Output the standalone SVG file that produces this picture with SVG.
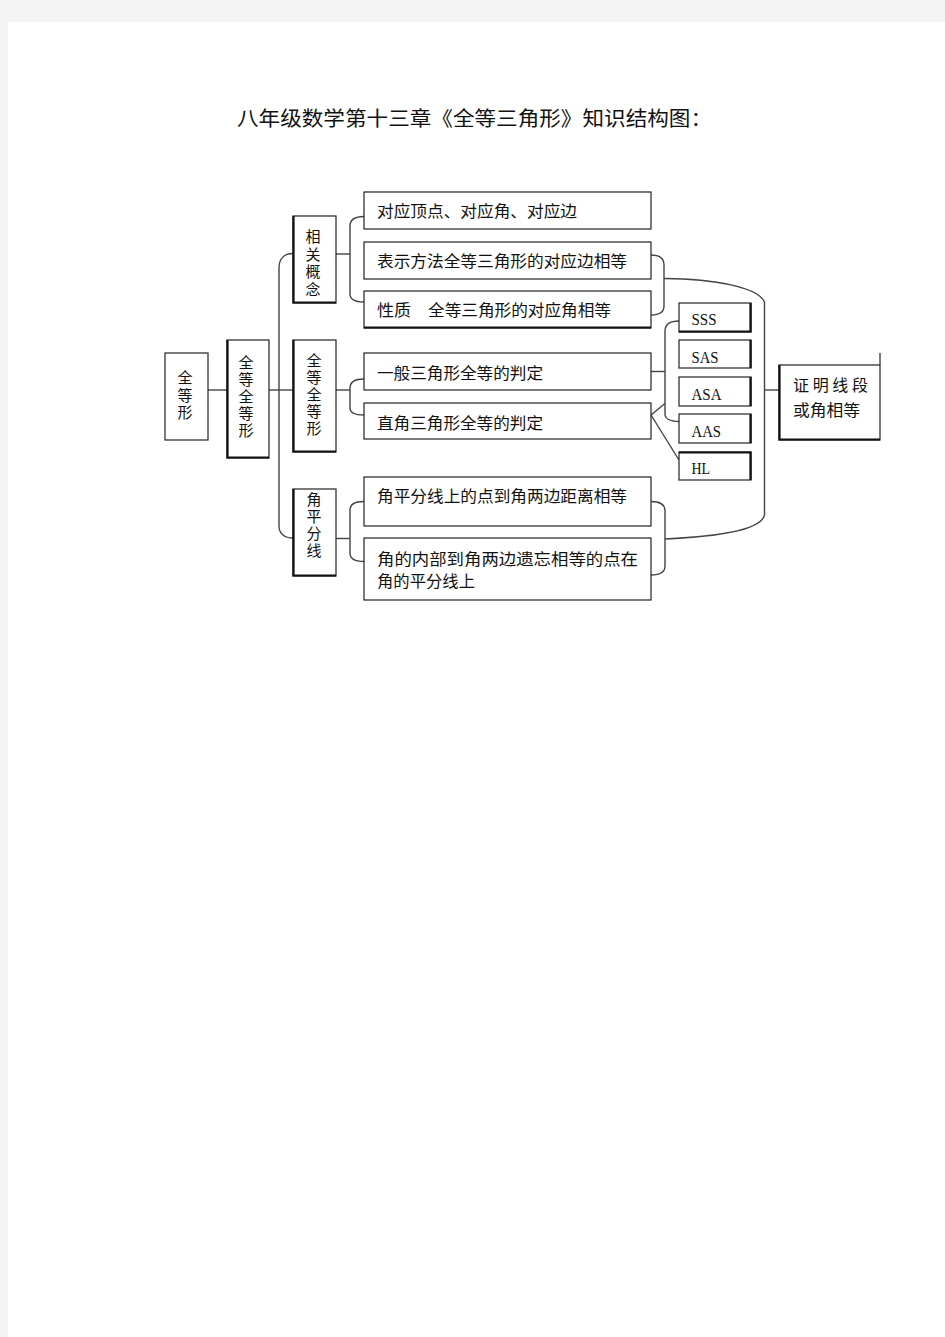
<svg xmlns="http://www.w3.org/2000/svg" width="945" height="1337" viewBox="0 0 945 1337">
<style>
.box{fill:#fff;stroke:#222;stroke-width:1.2}
.thk{stroke:#111;stroke-width:2.2;fill:none}
.con{fill:none;stroke:#444;stroke-width:1.4}
.t{font-family:"Noto Sans CJK SC","Noto Sans",sans-serif;font-size:16px;fill:#111}
.v{font-family:"Liberation Sans","Noto Sans CJK SC",sans-serif;font-size:15px;fill:#111;text-anchor:middle}
.e{font-family:"Liberation Serif","Noto Sans CJK SC",serif;font-size:16px;fill:#111}
.title{font-family:"Noto Sans CJK SC",sans-serif;font-size:20px;fill:#111}
</style>
<rect x="0" y="0" width="945" height="1337" fill="#f3f3f3"/>
<rect x="8" y="22" width="937" height="1315" fill="#fff"/>
<text class="title" x="237" y="126" textLength="475" lengthAdjust="spacingAndGlyphs">八年级数学第十三章《全等三角形》知识结构图：</text>

<g id="connectors">
<path class="con" d="M208,390 H227"/>
<path class="con" d="M269,390 H293"/>
<path class="con" d="M293,253.5 C285,253.5 279,258 279,268 V526 C279,534 285,538 293,538"/>
<path class="con" d="M336,254 H350"/>
<path class="con" d="M364,216.5 C355,216.5 350,219 350,226 V294 C350,299 355,302 364,302"/>
<path class="con" d="M336,390 H350"/>
<path class="con" d="M364,379 C355,379 350,382 350,388 V408 C350,413 355,415 364,415"/>
<path class="con" d="M336,538.5 H350"/>
<path class="con" d="M364,501.5 C355,501.5 350,504 350,510 V553 C350,559 355,561.5 364,561.5"/>
<path class="con" d="M651,255 C660,255 664,258 664,265 V306 C664,312 660,315 651,315"/>
<path class="con" d="M664,278.5 C715,279 758,287 764.5,302 V515 C762,528 730,536 665,539"/>
<path class="con" d="M651,501.5 C660,501.5 665,504 665,511 V566 C665,572 660,575 651,575"/>
<path class="con" d="M679,321 C671,321 665,324 665,331 V414 C665,419 671,421.5 679,421.5"/>
<path class="con" d="M651,371.5 H665"/>
<path class="con" d="M651,415 L665,403.5"/>
<path class="con" d="M651,415 L679,460"/>
<path class="con" d="M765,390 H779"/>
<path class="con" d="M880,353 V365"/>
</g>

<g id="n-quandengxing">
<rect class="box" x="165" y="353" width="43" height="87"/>
<text class="v" x="185" y="383">全</text>
<text class="v" x="185" y="400.5">等</text>
<text class="v" x="185" y="418">形</text>
</g>

<g id="n-col1">
<rect class="box" x="227" y="340" width="42" height="118"/>
<path class="thk" d="M227.5,340 V457.5 H269"/>
<text class="v" x="246" y="368">全</text>
<text class="v" x="246" y="385">等</text>
<text class="v" x="246" y="402">全</text>
<text class="v" x="246" y="419">等</text>
<text class="v" x="246" y="436">形</text>
</g>

<g id="n-xiangguan">
<rect class="box" x="293" y="216" width="43" height="87"/>
<path class="thk" d="M293.5,216 V302.5 H336"/>
<text class="v" x="313" y="242">相</text>
<text class="v" x="313" y="259.5">关</text>
<text class="v" x="313" y="277">概</text>
<text class="v" x="313" y="294.5">念</text>
</g>

<g id="n-col2">
<rect class="box" x="293" y="340" width="43" height="112"/>
<path class="thk" d="M293.5,340 V451.5 H336"/>
<text class="v" x="314" y="366">全</text>
<text class="v" x="314" y="383">等</text>
<text class="v" x="314" y="400">全</text>
<text class="v" x="314" y="417">等</text>
<text class="v" x="314" y="434">形</text>
</g>

<g id="n-jiaopingfen">
<rect class="box" x="293" y="489" width="43" height="87"/>
<path class="thk" d="M293.5,489 V575.5 H336"/>
<text class="v" x="314" y="505">角</text>
<text class="v" x="314" y="522">平</text>
<text class="v" x="314" y="539">分</text>
<text class="v" x="314" y="556">线</text>
</g>

<g id="n-b1">
<rect class="box" x="364" y="192" width="287" height="37"/>
<text class="t" x="377" y="217" textLength="200" lengthAdjust="spacingAndGlyphs">对应顶点、对应角、对应边</text>
</g>
<g id="n-b2">
<rect class="box" x="364" y="242" width="287" height="37"/>
<text class="t" x="377" y="267" textLength="250" lengthAdjust="spacingAndGlyphs">表示方法全等三角形的对应边相等</text>
</g>
<g id="n-b3">
<rect class="box" x="364" y="291" width="287" height="37"/>
<path class="thk" d="M364,327.5 H651"/>
<text class="t" x="377" y="316" textLength="34" lengthAdjust="spacingAndGlyphs">性质</text>
<text class="t" x="428" y="316" textLength="183" lengthAdjust="spacingAndGlyphs">全等三角形的对应角相等</text>
</g>
<g id="n-b4">
<rect class="box" x="364" y="353" width="287" height="37"/>
<text class="t" x="377" y="379" textLength="166" lengthAdjust="spacingAndGlyphs">一般三角形全等的判定</text>
</g>
<g id="n-b5">
<rect class="box" x="364" y="403" width="287" height="36"/>
<text class="t" x="377" y="429" textLength="166" lengthAdjust="spacingAndGlyphs">直角三角形全等的判定</text>
</g>
<g id="n-b6">
<rect class="box" x="364" y="477" width="287" height="49"/>
<text class="t" x="377" y="502" textLength="250" lengthAdjust="spacingAndGlyphs">角平分线上的点到角两边距离相等</text>
</g>
<g id="n-b7">
<rect class="box" x="364" y="538" width="287" height="62"/>
<text class="t" x="377" y="565" textLength="261" lengthAdjust="spacingAndGlyphs">角的内部到角两边遗忘相等的点在</text>
<text class="t" x="377" y="587" textLength="98" lengthAdjust="spacingAndGlyphs">角的平分线上</text>
</g>

<g id="n-sss">
<rect class="box" x="679" y="303" width="72" height="29"/>
<path class="thk" d="M750.5,303 V331.5 H679"/>
<text class="e" x="691.5" y="325" textLength="25" lengthAdjust="spacingAndGlyphs">SSS</text>
</g>
<g id="n-sas">
<rect class="box" x="679" y="340" width="72" height="28"/>
<path class="thk" d="M750.5,340 V368"/>
<text class="e" x="691.5" y="363" textLength="27" lengthAdjust="spacingAndGlyphs">SAS</text>
</g>
<g id="n-asa">
<rect class="box" x="679" y="377" width="72" height="29"/>
<path class="thk" d="M750.5,377 V406"/>
<text class="e" x="691.5" y="400" textLength="30" lengthAdjust="spacingAndGlyphs">ASA</text>
</g>
<g id="n-aas">
<rect class="box" x="679" y="414" width="72" height="29"/>
<path class="thk" d="M750.5,414 V443"/>
<text class="e" x="691.5" y="437" textLength="29.5" lengthAdjust="spacingAndGlyphs">AAS</text>
</g>
<g id="n-hl">
<rect class="box" x="679" y="452" width="72" height="28"/>
<path class="thk" d="M679,452.5 H750.5 V480"/>
<text class="e" x="691.5" y="474" textLength="18.5" lengthAdjust="spacingAndGlyphs">HL</text>
</g>

<g id="n-proof">
<rect class="box" x="779" y="365" width="101" height="75"/>
<path class="thk" d="M779.5,365 V439.5 H880"/>
<text class="t" x="793" y="391" textLength="75" lengthAdjust="spacing">证明线段</text>
<text class="t" x="793" y="416" textLength="67" lengthAdjust="spacingAndGlyphs">或角相等</text>
</g>
</svg>
